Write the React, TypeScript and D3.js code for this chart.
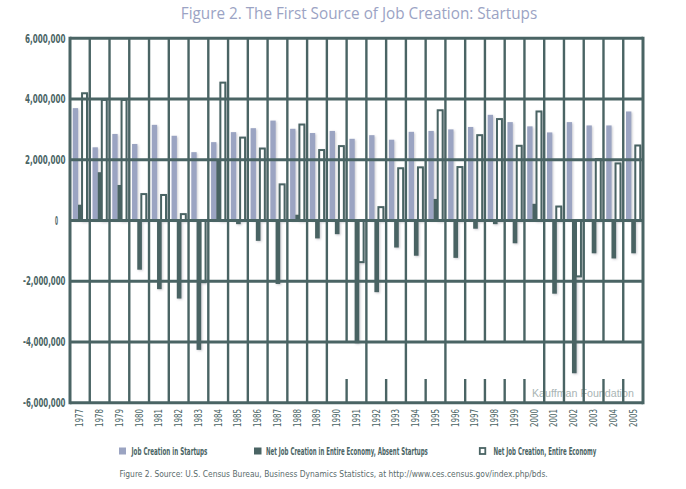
import React, { useLayoutEffect, useRef, useState } from "react";
import * as d3 from "d3";

const years = ["1977","1978","1979","1980","1981","1982","1983","1984","1985","1986","1987","1988","1989","1990","1991","1992","1993","1994","1995","1996","1997","1998","1999","2000","2001","2002","2003","2004","2005"];
const startupJobs = [3700000,2410000,2850000,2520000,3150000,2790000,2250000,2580000,2910000,3040000,3290000,3020000,2880000,2950000,2690000,2810000,2660000,2920000,2950000,3000000,3080000,3480000,3240000,3100000,2900000,3240000,3130000,3130000,3590000];
const absentStartups = [520000,1590000,1170000,-1620000,-2260000,-2570000,-4260000,2000000,-120000,-670000,-2090000,190000,-590000,-450000,-4040000,-2360000,-890000,-1160000,710000,-1230000,-270000,-120000,-750000,550000,-2410000,-5030000,-1080000,-1250000,-1080000];
const entireEconomy = [4190000,3970000,3970000,870000,840000,210000,-2030000,4540000,2730000,2370000,1190000,3160000,2320000,2450000,-1370000,440000,1720000,1750000,3630000,1760000,2810000,3340000,2460000,3590000,460000,-1840000,2020000,1880000,2470000];
const yTicks = [-6000000,-4000000,-2000000,0,2000000,4000000,6000000];
const legendLabels = ["Job Creation in Startups","Net Job Creation in Entire Economy, Absent Startups","Net Job Creation, Entire Economy"];
const titleText = "Figure 2. The First Source of Job Creation: Startups";
const sourceText = "Figure 2. Source: U.S. Census Bureau, Business Dynamics Statistics, at http://www.ces.census.gov/index.php/bds.";
const watermarkText = "Kauffman Foundation";
const gappedBoundaries = [14,16,18,20,21,22,23,27,28];

const W = 686, H = 489;
const L = 70, R = 643, T = 38.3, B = 402.7;
const DARK = "#4a6464";
const LIGHT = "#9ba4c2";
const sans = "'DejaVu Sans Condensed', 'DejaVu Sans', sans-serif";

const fmt = d3.formatLocale({ decimal: ".", thousands: ",", grouping: [3], currency: ["$", ""], minus: "-" }).format(",");

type FitProps = {
  x: number; y: number; width: number; anchor?: "start" | "middle" | "end"; rotate?: number;
  children: string; [k: string]: any;
};

function FitText({ x, y, width, anchor = "start", rotate = 0, children, ...rest }: FitProps) {
  const ref = useRef<SVGTextElement>(null);
  const [s, setS] = useState(1);
  useLayoutEffect(() => {
    if (!ref.current) return;
    const n = ref.current.getComputedTextLength();
    if (n > 0) setS(width / n);
  }, [width, children]);
  return (
    <text ref={ref} transform={`translate(${x},${y}) rotate(${rotate}) scale(${s},1)`} textAnchor={anchor} {...rest}>
      {children}
    </text>
  );
}

export default function App() {
  const x = d3.scaleBand<string>().domain(years).range([L, R]).padding(0);
  const y = d3.scaleLinear().domain([-6000000, 6000000]).range([B, T]);
  const bw = x.bandwidth();
  const y0 = y(0);
  const gapTop = y(-4000000);
  const gapBottom = 379;

  const rectFor = (v: number) => ({ y: Math.min(y(v), y0), h: Math.abs(y(v) - y0) });
  const boundaries = d3.range(1, years.length).map((k) => ({ k, x: L + k * bw }));

  return (
    <svg width={W} height={H} style={{ position: "absolute", left: 0, top: 0, background: "#fff" }}>
      <defs>
        <filter id="sh" x="-50%" y="-10%" width="200%" height="120%">
          <feDropShadow dx="1" dy="1" stdDeviation="1" floodColor="#667" floodOpacity="0.35" />
        </filter>
      </defs>
      <rect x={0} y={0} width={W} height={H} fill="#fff" />
      <FitText x={359} y={18.5} width={357} anchor="middle" fill="#9ba3c4" fontFamily="'Open Sans', sans-serif" fontSize={16}>{titleText}</FitText>

      <FitText x={532} y={396.5} width={102} fill="#a9b4b4" fontFamily="'Liberation Sans', sans-serif" fontSize={11}>{watermarkText}</FitText>

      {/* bars */}
      <g filter="url(#sh)">
        {years.map((yr, i) => {
          const b = x(yr)!;
          const r = rectFor(startupJobs[i]);
          return <rect key={"l" + yr} x={b + bw * 0.14} y={r.y} width={bw * 0.27} height={r.h} fill={LIGHT} />;
        })}
        {years.map((yr, i) => {
          const b = x(yr)!;
          const r = rectFor(absentStartups[i]);
          return <rect key={"d" + yr} x={b + bw * 0.405} y={r.y} width={bw * 0.235} height={r.h} fill={DARK} />;
        })}
        {years.map((yr, i) => {
          const b = x(yr)!;
          const r = rectFor(entireEconomy[i]);
          return <rect key={"o" + yr} x={b + bw * 0.61} y={r.y} width={bw * 0.25} height={r.h} fill="#fff" stroke={DARK} strokeWidth={2} />;
        })}
      </g>

      {/* vertical grid */}
      {boundaries.map(({ k, x: bx }) =>
        gappedBoundaries.includes(k) ? (
          <g key={"v" + k}>
            <line x1={bx} x2={bx} y1={T} y2={gapTop} stroke={DARK} strokeWidth={2.4} />
            <line x1={bx} x2={bx} y1={gapBottom} y2={B} stroke={DARK} strokeWidth={2.4} />
          </g>
        ) : (
          <line key={"v" + k} x1={bx} x2={bx} y1={T} y2={B} stroke={DARK} strokeWidth={2.4} />
        )
      )}
      {/* horizontal grid */}
      {yTicks.map((t) => (
        <line key={"h" + t} x1={L} x2={R} y1={y(t)} y2={y(t)} stroke={DARK} strokeWidth={3} />
      ))}
      <line x1={L} x2={L} y1={T - 1.5} y2={B + 1.5} stroke={DARK} strokeWidth={3} />
      <line x1={R} x2={R} y1={T - 1.5} y2={B + 1.5} stroke={DARK} strokeWidth={3} />

      {/* y labels */}
      {yTicks.map((t) => (
        <FitText key={"yl" + t} x={t === 0 ? 58 : 65.5} y={y(t) + 4.2} width={t === 0 ? 3 : t < 0 ? 42.5 : 40.5} anchor="end" fill={DARK} fontFamily={sans} fontWeight="bold" fontSize={12}>{fmt(t)}</FitText>
      ))}

      {/* x labels */}
      {years.map((yr) => (
        <FitText key={"xl" + yr} x={x(yr)! + bw / 2 + 3.4} y={409} rotate={-90} width={18} anchor="end" fill={DARK} fontFamily={sans} fontSize={10}>{yr}</FitText>
      ))}

      {/* legend */}
      <rect x={119} y={447.5} width={7} height={7} fill={LIGHT} />
      <FitText x={131.5} y={454.5} width={76} fill={DARK} fontFamily={sans} fontWeight="bold" fontSize={10}>{legendLabels[0]}</FitText>
      <rect x={254} y={447.5} width={7.5} height={7} fill={DARK} />
      <FitText x={266} y={454.5} width={162} fill={DARK} fontFamily={sans} fontWeight="bold" fontSize={10}>{legendLabels[1]}</FitText>
      <rect x={479.8} y={448} width={5.5} height={6} fill="#fff" stroke={DARK} strokeWidth={1.8} />
      <FitText x={493.5} y={454.5} width={103} fill={DARK} fontFamily={sans} fontWeight="bold" fontSize={10}>{legendLabels[2]}</FitText>

      <FitText x={119.5} y={477} width={429} fill="#5a6b6b" fontFamily={sans} fontSize={9}>{sourceText}</FitText>
    </svg>
  );
}
